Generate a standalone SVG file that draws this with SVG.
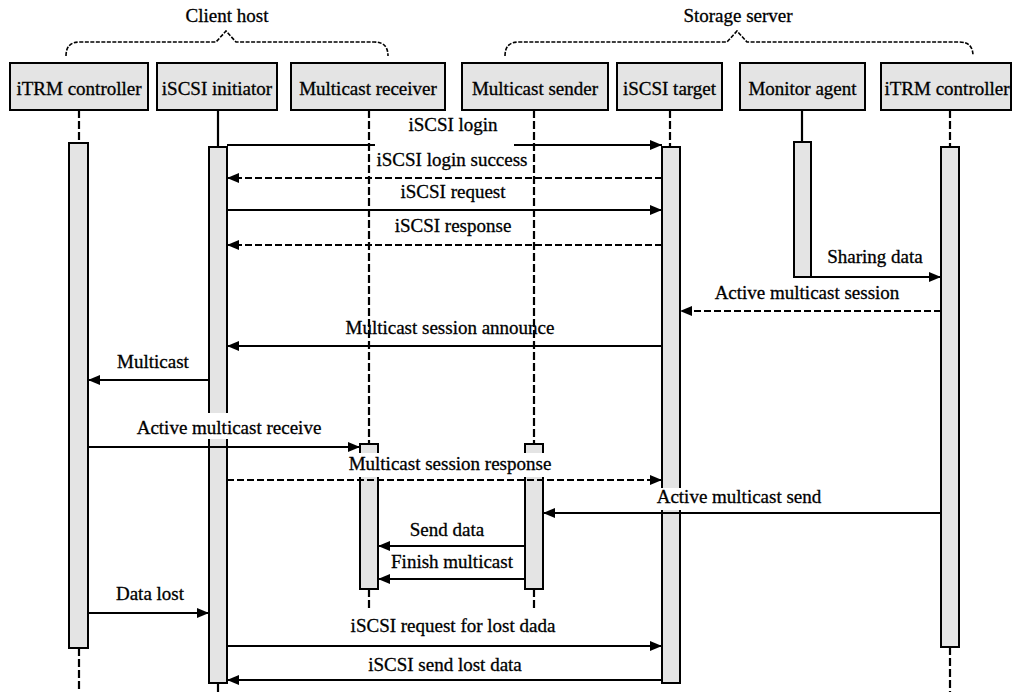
<svg xmlns="http://www.w3.org/2000/svg" width="1013" height="692" viewBox="0 0 1013 692">
<style>
  .box { fill: #e4e4e4; stroke: #000; stroke-width: 2; }
  .bar { fill: #e4e4e4; stroke: #000; stroke-width: 2; }
  .life { stroke: #000; stroke-width: 2.2; fill: none; }
  .dl { stroke-dasharray: 8 3; }
  .msg { stroke: #000; stroke-width: 2; fill: none; marker-end: url(#ah); }
  .ret { stroke-dasharray: 7 3; }
  .brace { stroke: #000; stroke-width: 1.6; fill: none; stroke-dasharray: 4 1.5; }
  .bg { fill: #fff; stroke: none; }
</style>
<defs>
  <marker id="ah" markerUnits="userSpaceOnUse" markerWidth="13" markerHeight="11" refX="12" refY="5" orient="auto">
    <path d="M0,0 L12,5 L0,10 z" fill="#000"/>
  </marker>
</defs>
<rect width="1013" height="692" fill="#fff"/>

<g id="groups" font-family="Liberation Serif" font-size="19" text-anchor="middle" fill="#000" stroke="#000" stroke-width="0.3">
  <g id="client-host">
    <path class="brace" d="M66,56 C66,47 70,42 80,42 L216,42 L226,31 L236,42 L374,42 C384,42 388,47 388,56"/>
    <text x="227" y="22">Client host</text>
  </g>
  <g id="storage-server">
    <path class="brace" d="M505,56 C505,47 509,42 519,42 L727,42 L737,31 L747,42 L959,42 C969,42 973,47 973,56"/>
    <text x="738" y="22">Storage server</text>
  </g>
</g>

<g id="lifelines">
  <line class="life dl" x1="79" y1="110" x2="79" y2="143"/>
  <line class="life dl" x1="79" y1="648" x2="79" y2="692"/>
  <line class="life" x1="218" y1="110" x2="218" y2="147"/>
  <line class="life" x1="218" y1="683" x2="218" y2="692"/>
  <line class="life dl" x1="369" y1="589" x2="369" y2="611"/>
  <line class="life dl" x1="534" y1="589" x2="534" y2="611"/>
  <line class="life dl" x1="670" y1="110" x2="670" y2="147"/>
  <line class="life" x1="802" y1="110" x2="802" y2="142"/>
  <line class="life dl" x1="950" y1="110" x2="950" y2="147"/>
  <line class="life dl" x1="950" y1="647" x2="950" y2="692"/>
</g>

<g id="activations">
  <rect class="bar" x="69" y="143" width="19" height="505"/>
  <rect class="bar" x="209" y="147" width="18" height="536"/>
  <rect class="bar" x="360" y="444" width="18" height="145"/>
  <rect class="bar" x="525" y="444" width="18" height="145"/>
  <rect class="bar" x="662" y="147" width="18" height="536"/>
  <rect class="bar" x="794" y="142" width="17" height="135"/>
  <rect class="bar" x="941" y="147" width="18" height="500"/>
</g>

<g id="connectors">
  <line class="msg" x1="227" y1="145" x2="662" y2="145"/>
  <line class="msg ret" x1="662" y1="178" x2="227" y2="178"/>
  <line class="msg" x1="227" y1="210" x2="662" y2="210"/>
  <line class="msg ret" x1="662" y1="245" x2="227" y2="245"/>
  <line class="msg" x1="811" y1="277" x2="941" y2="277"/>
  <line class="msg ret" x1="941" y1="311" x2="680" y2="311"/>
  <line class="msg" x1="662" y1="346" x2="227" y2="346"/>
  <line class="msg" x1="209" y1="380" x2="88" y2="380"/>
  <line class="msg" x1="88" y1="447" x2="360" y2="447"/>
  <line class="msg ret" x1="227" y1="480" x2="662" y2="480"/>
  <line class="msg" x1="941" y1="513" x2="543" y2="513"/>
  <line class="msg" x1="525" y1="546" x2="378" y2="546"/>
  <line class="msg" x1="525" y1="579" x2="378" y2="579"/>
  <line class="msg" x1="88" y1="613" x2="209" y2="613"/>
  <line class="msg" x1="227" y1="646" x2="662" y2="646"/>
  <line class="msg" x1="662" y1="680" x2="227" y2="680"/>
</g>

<g id="label-bgs">
  <rect class="bg" x="375" y="116" width="139" height="32"/>
  <rect class="bg" x="133" y="413" width="192" height="26"/>
  <rect class="bg" x="346" y="453" width="208" height="24"/>
  <rect class="bg" x="653" y="488" width="172" height="22"/>
</g>
<g id="labels" font-family="Liberation Serif" font-size="19" text-anchor="middle" fill="#000" stroke="#000" stroke-width="0.3">
  <text x="453" y="131">iSCSI login</text>
  <text x="452" y="166">iSCSI login success</text>
  <text x="453" y="198">iSCSI request</text>
  <text x="453" y="232">iSCSI response</text>
  <text x="875" y="263">Sharing data</text>
  <text x="807" y="299">Active multicast session</text>
  <text x="450" y="334">Multicast session announce</text>
  <text x="153" y="368">Multicast</text>
  <text x="229" y="434">Active multicast receive</text>
  <text x="450" y="470">Multicast session response</text>
  <text x="739" y="503">Active multicast send</text>
  <text x="447" y="536">Send data</text>
  <text x="452" y="568">Finish multicast</text>
  <text x="150" y="600">Data lost</text>
  <text x="453" y="632">iSCSI request for lost dada</text>
  <text x="445" y="671">iSCSI send lost data</text>
</g>

<g id="upper-lifelines">
  <line class="life dl" x1="369" y1="110" x2="369" y2="444"/>
  <line class="life dl" x1="534" y1="110" x2="534" y2="444"/>
</g>

<g id="nodes" font-family="Liberation Serif" font-size="19" text-anchor="middle">
  <g id="node-itrm-client">
    <rect class="box" x="10" y="63" width="138" height="47"/>
    <text x="79" y="95" fill="#000" stroke="#000" stroke-width="0.3">iTRM controller</text>
  </g>
  <g id="node-iscsi-initiator">
    <rect class="box" x="157" y="63" width="120" height="47"/>
    <text x="217" y="95" fill="#000" stroke="#000" stroke-width="0.3">iSCSI initiator</text>
  </g>
  <g id="node-multicast-receiver">
    <rect class="box" x="291" y="63" width="154" height="47"/>
    <text x="368" y="95" fill="#000" stroke="#000" stroke-width="0.3">Multicast receiver</text>
  </g>
  <g id="node-multicast-sender">
    <rect class="box" x="462" y="63" width="146" height="47"/>
    <text x="535" y="95" fill="#000" stroke="#000" stroke-width="0.3">Multicast sender</text>
  </g>
  <g id="node-iscsi-target">
    <rect class="box" x="617" y="63" width="105" height="47"/>
    <text x="669.5" y="95" fill="#000" stroke="#000" stroke-width="0.3">iSCSI target</text>
  </g>
  <g id="node-monitor-agent">
    <rect class="box" x="740" y="63" width="125" height="47"/>
    <text x="802.5" y="95" fill="#000" stroke="#000" stroke-width="0.3">Monitor agent</text>
  </g>
  <g id="node-itrm-server">
    <rect class="box" x="881" y="63" width="130" height="47"/>
    <text x="947" y="95" fill="#000" stroke="#000" stroke-width="0.3">iTRM controller</text>
  </g>
</g>
</svg>
